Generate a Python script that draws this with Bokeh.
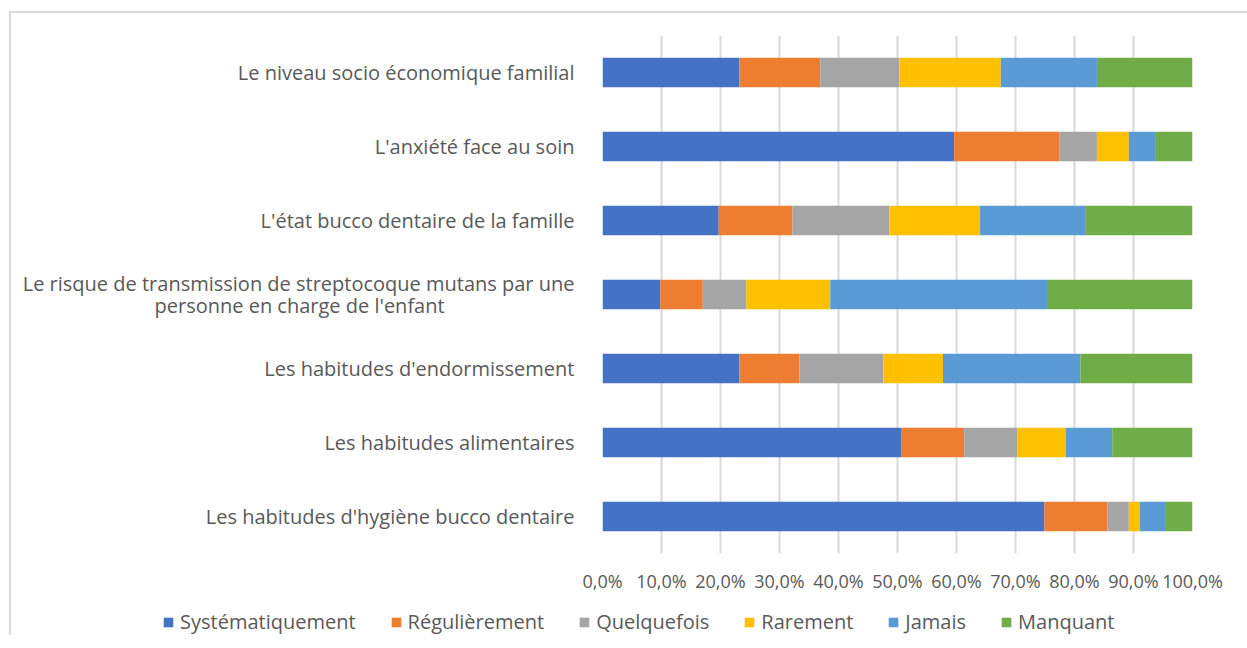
from bokeh.plotting import figure
from bokeh.layouts import column
from bokeh.models import FactorRange, Legend, LegendItem, FixedTicker, ColumnDataSource, Range1d
from bokeh.embed import file_html
from bokeh.resources import INLINE

NB = "\u00a0"
categories = [
    "Les habitudes d'hygiène bucco dentaire",
    "Les habitudes alimentaires",
    "Les habitudes d'endormissement",
    "Le risque de transmission de streptocoque mutans par une\npersonne en charge de l'enfant" + NB * 25,
    "L'état bucco dentaire de la famille",
    "L'anxiété face au soin",
    "Le niveau socio économique familial",
]
series = ["Systématiquement", "Régulièrement", "Quelquefois", "Rarement", "Jamais", "Manquant"]
systematiquement = [74.9, 50.6, 23.2, 9.8, 19.7, 59.6, 23.2]
regulierement = [10.7, 10.7, 10.2, 7.2, 12.5, 17.8, 13.7]
quelquefois = [3.6, 9.0, 14.2, 7.4, 16.4, 6.4, 13.4]
rarement = [1.9, 8.2, 10.1, 14.2, 15.4, 5.4, 17.2]
jamais = [4.4, 7.9, 23.3, 36.9, 17.8, 4.6, 16.3]
manquant = [4.5, 13.6, 19.0, 24.5, 18.2, 6.2, 16.2]
tick_values = [0, 10, 20, 30, 40, 50, 60, 70, 80, 90, 100]
tick_labels = ["0,0%", "10,0%", "20,0%", "30,0%", "40,0%", "50,0%", "60,0%", "70,0%", "80,0%", "90,0%", "100,0%"]
colors = ["#4472C4", "#ED7D31", "#A5A5A5", "#FFC000", "#5B9BD5", "#70AD47"]

FONT = "Open Sans"
TXT = "#595959"

keys = ["s0", "s1", "s2", "s3", "s4", "s5"]
data = dict(cat=categories)
for k, vals in zip(keys, [systematiquement, regulierement, quelquefois, rarement, jamais, manquant]):
    data[k] = vals
source = ColumnDataSource(data)

p = figure(
    y_range=FactorRange(*categories, range_padding=0),
    x_range=(0, 100),
    width=1236, height=596,
    output_backend="svg", toolbar_location=None,
    min_border_left=591, min_border_right=55, min_border_top=22, min_border_bottom=56,
)
p.outline_line_color = None

renderers = p.hbar_stack(keys, y="cat", height=0.4, color=colors, line_color=None, source=source)

p.yaxis.axis_line_color = None
p.yaxis.major_tick_line_color = None
p.yaxis.minor_tick_line_color = None
p.yaxis.major_label_standoff = 22
p.yaxis.major_label_text_font = FONT
p.yaxis.major_label_text_font_size = "20px"
p.yaxis.major_label_text_color = TXT
p.yaxis.major_label_text_line_height = 0.85

p.ygrid.grid_line_color = None
p.xgrid.grid_line_color = "#D9D9D9"
p.xgrid.grid_line_width = 2
p.xaxis.ticker = FixedTicker(ticks=tick_values)
p.xaxis.major_label_overrides = {v: l for v, l in zip(tick_values, tick_labels)}
p.xaxis.axis_line_color = None
p.xaxis.major_tick_line_color = None
p.xaxis.minor_tick_line_color = None
p.xaxis.major_label_standoff = 9
p.xaxis.major_label_text_font = FONT
p.xaxis.major_label_text_font_size = "18px"
p.xaxis.major_label_text_color = TXT

# legend strip
p2 = figure(width=1236, height=26, x_range=Range1d(0, 1), y_range=Range1d(0, 1),
            output_backend="svg", toolbar_location=None,
            min_border_left=0, min_border_right=0, min_border_top=0, min_border_bottom=0)
p2.frame_align = False
p2.axis.visible = False
p2.grid.grid_line_color = None
p2.outline_line_color = None
leg_renderers = [p2.hbar(y=[-5], left=[-6], right=[-5], height=0.1, color=c, line_color=None)
                 for c in colors]
legend = Legend(
    items=[LegendItem(label=s, renderers=[r]) for s, r in zip(series, leg_renderers)],
    orientation="horizontal", location=(151, 0),
    padding=0, margin=0, spacing=34, label_standoff=6,
    glyph_width=12, glyph_height=12, label_height=26,
    label_text_font=FONT, label_text_font_size="20px", label_text_color=TXT,
    border_line_color=None, background_fill_alpha=0,
)
p2.add_layout(legend, "center")

layout = column(p, p2, spacing=0)
layout.styles = {"margin-left": "9px", "margin-top": "11px",
                 "border-top": "2px solid #D9D9D9", "border-left": "2px solid #D9D9D9"}

open("out.html", "w").write(file_html(layout, INLINE))
